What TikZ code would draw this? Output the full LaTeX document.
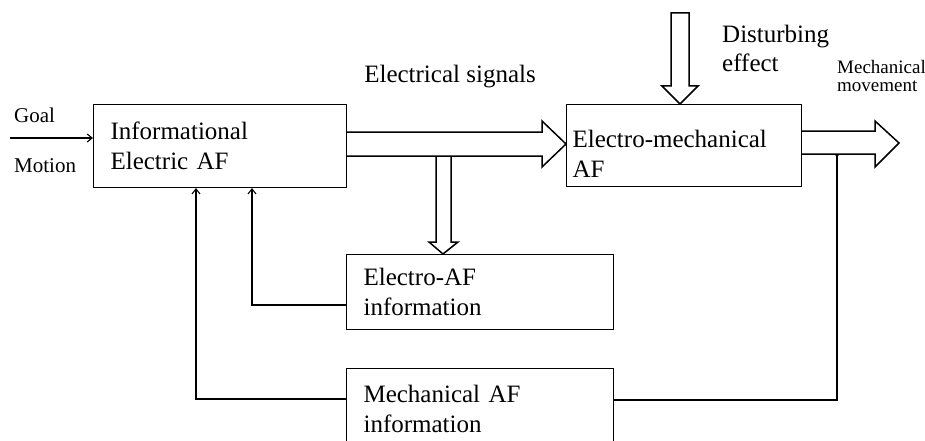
\documentclass[tikz,border=0pt]{standalone}
\usepackage{fontspec}
\setmainfont{Liberation Serif}
\usepackage{tikz}
\usetikzlibrary{positioning,arrows.meta,calc}

\begin{document}
\begin{tikzpicture}[
        x=1pt, y=-1pt,
        box/.style={draw, rectangle, anchor=north west, align=left, inner ysep=0pt, line width=1.1pt, font=\fontsize{25}{30}\selectfont},
        bigarrow/.style={draw, line width=1.5pt, line join=miter},
        arrow/.style={-{Straight Barb[length=5pt,width=8pt]}, line width=1.1pt},
        wire/.style={line width=1.1pt},
        lbl/.style={inner sep=0pt, align=left, font=\fontsize{25}{29}\selectfont},
        smalllbl/.style={inner sep=0pt, align=left, font=\fontsize{19}{18}\selectfont}
    ]
        \useasboundingbox (0,0) rectangle (925,441);

        % blocks
        \node[box, minimum width=253pt, minimum height=83pt, text width=219pt, inner xsep=17pt] (info) at (93,104) {Informational\\Electric AF};
        \node[box, minimum width=235pt, minimum height=82pt, text width=223pt, inner xsep=6pt, text height=33pt] (emech) at (566,104) {Electro-mechanical\\AF};
        \node[box, minimum width=267pt, minimum height=75pt, text width=233pt, inner xsep=17pt] (eaf) at (346,254) {Electro-AF\\information};
        \node[box, minimum width=267pt, minimum height=80pt, text width=233pt, inner xsep=17pt] (mech) at (346,368) {Mechanical AF\\information};

        % labels
        \node[lbl, font=\fontsize{21}{22}\selectfont, anchor=base west] (goal) at (14,122) {Goal};
        \node[lbl, font=\fontsize{21}{22}\selectfont, anchor=base west] (motion) at (14,172) {Motion};
        \node[lbl, anchor=base] (signals) at (450,83) {Electrical signals};
        \node[lbl, anchor=base west] (disturb) at (722,72) {Disturbing\\effect};
        \node[smalllbl, anchor=base west] (movement) at (837,92) {Mechanical\\movement};

        \coordinate (goalin) at (10,138);
        \coordinate (tap) at (837,154);

        % electrical signals with branch to Electro-AF information
        \draw[bigarrow] (info.east |- 0,132) -- (542,132) -- (542,121) -- (emech.west |- 0,144)
            -- (542,167) -- (542,156) -- (info.east |- 0,156);
        \draw[bigarrow] (436,156) -- (436,242) -- (429,242) -- (443,0 |- eaf.north)
            -- (458,242) -- (451,242) -- (451,156);

        % disturbing effect
        \draw[bigarrow] (671,86) -- (671,13) -- (689,13) -- (689,86) -- (698,86)
            -- (680,0 |- emech.north) -- (662,86) -- cycle;

        % mechanical movement
        \draw[bigarrow] (emech.east |- 0,131) -- (875,131) -- (875,121) -- (899,143)
            -- (875,167) -- (875,154) -- (emech.east |- 0,154);

        % signal lines
        \draw[arrow] (goalin) -- (info.west |- goalin);
        \draw[wire, {Circle[length=3pt]}-] (tap) |- (mech.east |- 0,400);
        \draw[arrow] (eaf.west |- 0,305) -| (252,0 |- info.south);
        \draw[arrow] (mech.west |- 0,399) -| (196,0 |- info.south);
    \end{tikzpicture}
\end{document}
